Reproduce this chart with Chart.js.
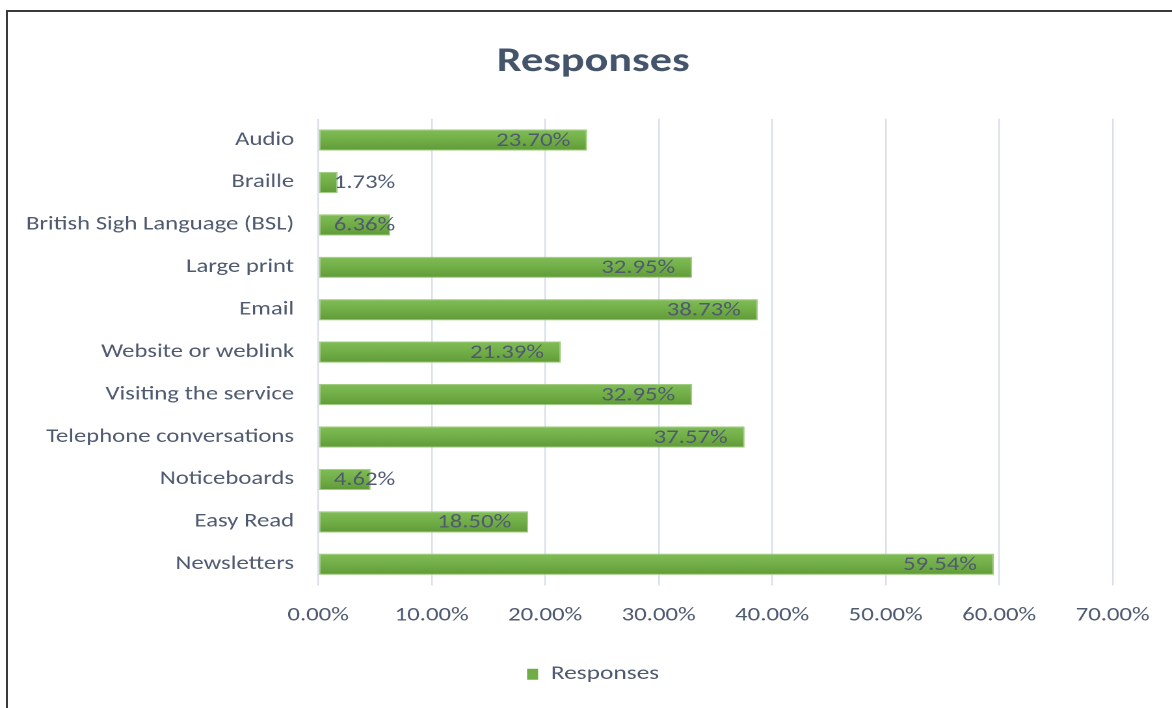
<!DOCTYPE html>
<html>
<head>
<meta charset="utf-8">
<script src="https://cdn.jsdelivr.net/npm/chart.js@4.4.0/dist/chart.umd.min.js"></script>
<style>
  html, body { margin: 0; padding: 0; background: #fff; overflow: hidden; }
  #frame { position: absolute; left: 6px; top: 10px; width: 1300px; height: 1000px; border: 2px solid #3a3a3a; }
  /* the source picture is stretched sideways, so the chart is too */
  #wrap { position: absolute; left: 0; top: 0; width: 901.5px; height: 708px; transform: scaleX(1.3); transform-origin: 0 0; }
</style>
</head>
<body>
<div id="frame"></div>
<div id="wrap"><canvas id="chart"></canvas></div>
<script>
// chart data
const categories = [
  "Audio", "Braille", "British Sigh Language (BSL)", "Large print", "Email",
  "Website or weblink", "Visiting the service", "Telephone conversations",
  "Noticeboards", "Easy Read", "Newsletters"
];
const responses = [23.70, 1.73, 6.36, 32.95, 38.73, 21.39, 32.95, 37.57, 4.62, 18.50, 59.54];
const tickValues = [0, 10, 20, 30, 40, 50, 60, 70];

const textColor = "#4f5a70";
const fontFamily = "Carlito, Lato, 'Open Sans', sans-serif";

// green bar with a soft top-to-bottom shade
function barFill(ctx) {
  const chart = ctx.chart;
  const ys = chart.scales.y;
  if (!ys || !chart.chartArea) return "#70ad47";
  const c = ys.getPixelForValue(ctx.dataIndex);
  const half = (ys.height / categories.length) * 0.25;
  const g = chart.ctx.createLinearGradient(0, c - half, 0, c + half);
  g.addColorStop(0, "#81bd57");
  g.addColorStop(0.5, "#72ae48");
  g.addColorStop(1, "#5f9a36");
  return g;
}

// labels at the inside end of each bar
const valueLabels = {
  id: "valueLabels",
  afterDatasetsDraw(chart) {
    const ctx = chart.ctx;
    const meta = chart.getDatasetMeta(0);
    const x0 = chart.scales.x.getPixelForValue(0);
    ctx.save();
    ctx.font = "19px " + fontFamily;
    ctx.fillStyle = textColor;
    ctx.textAlign = "right";
    ctx.textBaseline = "middle";
    meta.data.forEach((bar, i) => {
      const txt = responses[i].toFixed(2) + "%";
      const w = ctx.measureText(txt).width;
      const right = Math.max(bar.x - 13, x0 + 12 + w);
      ctx.fillText(txt, right, bar.y + 1);
    });
    ctx.restore();
  }
};

new Chart(document.getElementById("chart"), {
  type: "bar",
  data: {
    labels: categories,
    datasets: [{
      label: "Responses",
      data: responses,
      backgroundColor: barFill,
      borderColor: "rgba(150,200,115,0.9)",
      borderWidth: 1,
      borderSkipped: false,
      barPercentage: 0.5,
      categoryPercentage: 1
    }]
  },
  options: {
    indexAxis: "y",
    responsive: true,
    maintainAspectRatio: false,
    devicePixelRatio: 2,
    animation: false,
    layout: { padding: { left: 10.5, right: 0, top: 0, bottom: 14 } },
    plugins: {
      title: {
        display: true,
        text: "Responses",
        color: "#44546a",
        font: { family: fontFamily, size: 34, weight: "bold" },
        padding: { top: 42, bottom: 36 }
      },
      legend: {
        display: true,
        position: "bottom",
        labels: {
          color: textColor,
          font: { family: fontFamily, size: 19.5 },
          boxWidth: 8.5,
          boxHeight: 11,
          padding: 10,
          generateLabels(chart) {
            return [{
              text: "Responses",
              fillStyle: "#70ad47",
              strokeStyle: "#70ad47",
              lineWidth: 0,
              fontColor: textColor,
              datasetIndex: 0
            }];
          }
        }
      },
      tooltip: { enabled: false }
    },
    scales: {
      x: {
        min: 0,
        max: 70,
        afterBuildTicks(scale) {
          scale.ticks = tickValues.map(v => ({ value: v }));
        },
        afterFit(scale) {
          scale.height = 69;
          scale.paddingRight = 46.1;
        },
        ticks: {
          color: textColor,
          font: { family: fontFamily, size: 19 },
          padding: 19,
          callback: v => v.toFixed(2) + "%"
        },
        grid: { color: "#d9dee8", lineWidth: 1.2, drawTicks: false },
        border: { display: false }
      },
      y: {
        afterFit(scale) { scale.width = 234.1; },
        ticks: {
          color: textColor,
          font: { family: fontFamily, size: 19 },
          padding: 18.5
        },
        grid: { display: false, drawTicks: false },
        border: { display: false }
      }
    }
  },
  plugins: [valueLabels]
});
</script>
</body>
</html>
